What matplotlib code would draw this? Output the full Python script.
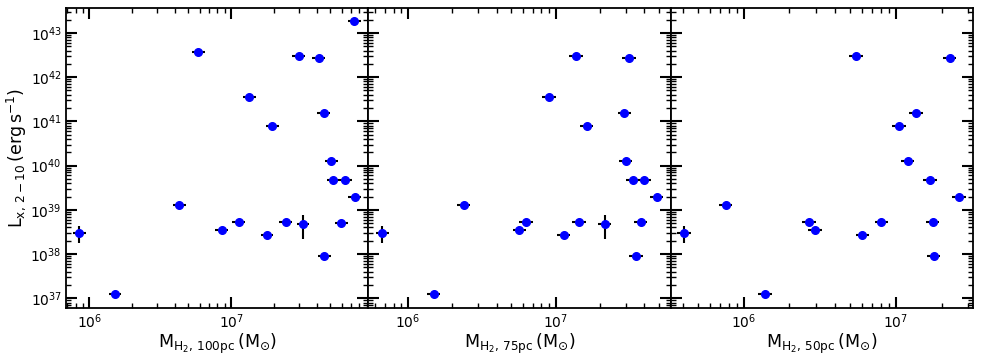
import numpy as np
import matplotlib
matplotlib.use("Agg")
import matplotlib.pyplot as plt
from matplotlib.ticker import LogLocator, NullFormatter, FixedLocator

# log10 of X-ray luminosity (shared across panels, by object)
logL_100 = [42.58, 41.55, 40.90, 42.47, 42.43, 41.18, 40.10, 43.28,
            38.48, 37.09, 39.12, 38.55, 38.72, 38.44, 38.73, 38.69,
            37.96, 39.67, 39.67, 38.71, 39.30]
logM_100 = [6.769, 7.127, 7.289, 7.475, 7.616, 7.651, 7.706, 7.868,
            5.929, 6.181, 6.635, 6.934, 7.054, 7.252, 7.383, 7.506,
            7.656, 7.718, 7.805, 7.776, 7.870]
yerr_lo_100 = [0.03]*8 + [0.23, 0.03, 0.03, 0.03, 0.03, 0.03, 0.03, 0.35, 0.03, 0.03, 0.03, 0.03, 0.03]
yerr_hi_100 = [0.03]*8 + [0.15, 0.03, 0.03, 0.03, 0.03, 0.03, 0.03, 0.20, 0.03, 0.03, 0.03, 0.03, 0.03]

logL_75 = [42.47, 42.43, 41.55, 41.18, 40.90, 40.10,
           38.48, 37.09, 39.12, 38.55, 38.73, 38.44, 38.73, 38.69,
           37.96, 39.67, 39.67, 38.72, 39.30]
logM_75 = [7.139, 7.498, 6.955, 7.467, 7.212, 7.476,
           5.826, 6.174, 6.376, 6.754, 6.799, 7.056, 7.158, 7.334,
           7.546, 7.525, 7.600, 7.578, 7.686]
yerr_lo_75 = [0.03]*6 + [0.23, 0.03, 0.03, 0.03, 0.03, 0.03, 0.03, 0.35, 0.03, 0.03, 0.03, 0.03, 0.03]
yerr_hi_75 = [0.03]*6 + [0.15, 0.03, 0.03, 0.03, 0.03, 0.03, 0.03, 0.20, 0.03, 0.03, 0.03, 0.03, 0.03]

logL_50 = [42.47, 42.43, 41.18, 40.90, 40.10, 39.67,
           38.48, 39.12, 37.09, 38.73, 38.55, 38.44, 38.73, 38.72,
           37.96, 39.30]
logM_50 = [6.740, 7.353, 7.132, 7.022, 7.077, 7.224,
           5.611, 5.882, 6.142, 6.431, 6.471, 6.781, 6.906, 7.241,
           7.248, 7.416]
yerr_lo_50 = [0.03]*6 + [0.23] + [0.03]*9
yerr_hi_50 = [0.03]*6 + [0.15] + [0.03]*9

xerr_dex = 0.045

xlabels = [r"$\rm M_{H_2,\,100pc}\,(M_{\odot})$",
           r"$\rm M_{H_2,\,75pc}\,(M_{\odot})$",
           r"$\rm M_{H_2,\,50pc}\,(M_{\odot})$"]
ylabel = r"$\rm L_{x,\,2-10}\,(erg\,s^{-1})$"
yticks = [1e37, 1e38, 1e39, 1e40, 1e41, 1e42, 1e43]
xticks = [1e6, 1e7]
xlims = [(6.85e5, 9.27e7), (5.38e5, 6.04e7), (3.33e5, 3.22e7)]
ylim = (6.1e36, 3.7e43)

panels = [(logM_100, logL_100, yerr_lo_100, yerr_hi_100),
          (logM_75, logL_75, yerr_lo_75, yerr_hi_75),
          (logM_50, logL_50, yerr_lo_50, yerr_hi_50)]

fig, axes = plt.subplots(1, 3, figsize=(9.81, 3.57), dpi=100, sharey=True)
fig.subplots_adjust(left=0.0673, right=0.992, top=0.978, bottom=0.138, wspace=0)

for i, (ax, (lm, ll, ylo, yhi)) in enumerate(zip(axes, panels)):
    lm = np.array(lm); ll = np.array(ll)
    ylo = np.array(ylo); yhi = np.array(yhi)
    x = 10**lm
    y = 10**ll
    xe = [x - 10**(lm - xerr_dex), 10**(lm + xerr_dex) - x]
    ye = [y - 10**(ll - ylo), 10**(ll + yhi) - y]
    ax.errorbar(x, y, xerr=xe, yerr=ye, fmt='o', color='blue', ms=5.5,
                mec='blue', ecolor='black', elinewidth=1.5, capsize=0, zorder=3)
    ax.set_xscale('log'); ax.set_yscale('log')
    ax.set_xlim(*xlims[i]); ax.set_ylim(*ylim)
    ax.yaxis.set_major_locator(FixedLocator(yticks))
    ax.xaxis.set_major_locator(FixedLocator(xticks))
    ax.yaxis.set_minor_locator(LogLocator(base=10, subs=np.arange(2, 10), numticks=20))
    ax.yaxis.set_minor_formatter(NullFormatter())
    ax.xaxis.set_minor_formatter(NullFormatter())
    ax.tick_params(which='both', direction='in', top=True, right=True, labelsize=10)
    ax.tick_params(which='major', length=8, width=1.5, pad=3)
    ax.tick_params(which='minor', length=3.5, width=1.0)
    for s in ax.spines.values():
        s.set_linewidth(1.3)
    ax.set_xlabel(xlabels[i], fontsize=12.5, labelpad=1)
    if i == 0:
        ax.set_ylabel(ylabel, fontsize=12.5, labelpad=2)
    else:
        ax.tick_params(labelleft=False)

fig.savefig("out.png", dpi=100)
